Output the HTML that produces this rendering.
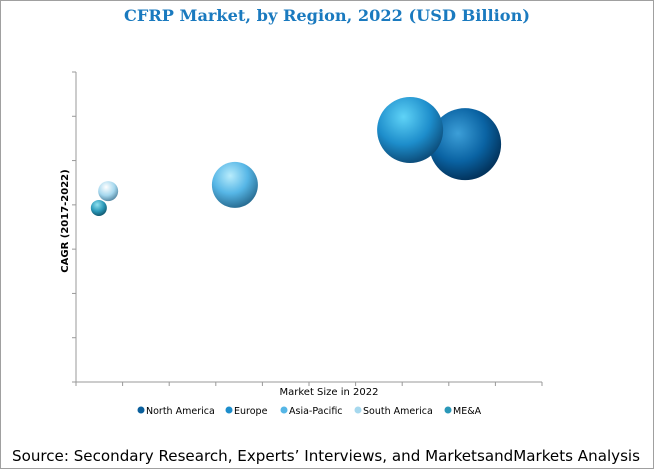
<!DOCTYPE html>
<html><head><meta charset="utf-8"><style>
body{margin:0;width:654px;height:469px;background:#fff;overflow:hidden}
svg{display:block}
</style></head><body>
<svg width="654" height="469" font-family="'DejaVu Sans','Liberation Sans',sans-serif">
<defs>
<radialGradient id="gNA" cx="0.4" cy="0.35" r="0.65"><stop offset="0" stop-color="#3d9fd8"/><stop offset="0.6" stop-color="#0a63a3"/><stop offset="1" stop-color="#03355f"/></radialGradient>
<radialGradient id="gEU" cx="0.4" cy="0.3" r="0.7"><stop offset="0" stop-color="#5fd3f7"/><stop offset="0.6" stop-color="#1d8dcb"/><stop offset="1" stop-color="#0d4f7d"/></radialGradient>
<radialGradient id="gAP" cx="0.4" cy="0.3" r="0.7"><stop offset="0" stop-color="#b8ecfc"/><stop offset="0.55" stop-color="#56b6e6"/><stop offset="1" stop-color="#2a6f95"/></radialGradient>
<radialGradient id="gSA" cx="0.4" cy="0.3" r="0.7"><stop offset="0" stop-color="#ffffff"/><stop offset="0.6" stop-color="#a6d8ee"/><stop offset="1" stop-color="#5a8da8"/></radialGradient>
<radialGradient id="gME" cx="0.4" cy="0.3" r="0.7"><stop offset="0" stop-color="#8fe1f0"/><stop offset="0.6" stop-color="#2a98b8"/><stop offset="1" stop-color="#125a72"/></radialGradient>
</defs>
<rect x="0.5" y="0.5" width="653" height="468" fill="#fff" stroke="#a0a0a0"/>
<text x="124" y="21" textLength="406" lengthAdjust="spacingAndGlyphs" font-family="'DejaVu Serif','Liberation Serif',serif" font-weight="bold" font-size="15.5" fill="#1a7abf">CFRP Market, by Region, 2022 (USD Billion)</text>
<g id="axes"></g>
<g id="bubbles"></g>
<text x="329" y="395" text-anchor="middle" font-size="10" fill="#000">Market Size in 2022</text>
<text transform="translate(68,221) rotate(-90)" text-anchor="middle" font-size="10" font-weight="bold" fill="#000">CAGR (2017-2022)</text>
<g id="legend"></g>
<text x="12" y="461" textLength="628" lengthAdjust="spacingAndGlyphs" font-size="15" fill="#000">Source: Secondary Research, Experts’ Interviews, and MarketsandMarkets Analysis</text>
</svg>
<script>
const regions=["North America","Europe","Asia-Pacific","South America","ME&A"];
const marketSize=[8.35,7.17,3.41,0.69,0.49];
const cagr=[5.37,5.69,4.45,4.31,3.93];
const bubbleSize=[36,33,23,10,8];
const grads=["gNA","gEU","gAP","gSA","gME"];
const legendColors=["#0a5f9c","#1d8dcb","#56b6e6","#a6d8ee","#2a98b8"];
const X0=76,X1=542,Y0=382,Y1=72,XMAX=10,YMAX=7;
const xs=v=>X0+v/XMAX*(X1-X0), ys=v=>Y0-v/YMAX*(Y0-Y1);
const NS="http://www.w3.org/2000/svg";
const mk=(t,a)=>{const e=document.createElementNS(NS,t);for(const k in a)e.setAttribute(k,a[k]);return e;};
const ax=document.getElementById('axes');
let l=mk('line',{x1:X0,y1:Y1,x2:X0,y2:Y0,stroke:'#999','stroke-width':1});


ax.appendChild(l);
l=mk('line',{x1:X0,y1:Y0,x2:X1,y2:Y0,stroke:'#999','stroke-width':1});


ax.appendChild(l);
for(let i=0;i<=XMAX;i++){const t=mk('line',{x1:xs(i),y1:Y0,x2:xs(i),y2:Y0+4,stroke:'#999'});


ax.appendChild(t);}
for(let i=0;i<=YMAX;i++){const t=mk('line',{x1:X0-4,y1:ys(i),x2:X0,y2:ys(i),stroke:'#999'});


ax.appendChild(t);}
const bg=document.getElementById('bubbles');
const order=[4,3,2,0,1];
order.forEach(i=>{const c=mk('circle',{cx:xs(marketSize[i]),cy:ys(cagr[i]),r:bubbleSize[i],fill:'url(#'+grads[i]+')'});


bg.appendChild(c);});
const lg=document.getElementById('legend');
const lx=[141,229,284,358,448];
regions.forEach((r,i)=>{const g=mk('g',{});


g.appendChild(mk('circle',{cx:lx[i],cy:410,r:3.5,fill:legendColors[i]}));
const t=mk('text',{x:lx[i]+5,y:414,'font-size':9.5,fill:'#000'});t.textContent=r;g.appendChild(t);lg.appendChild(g);});
</script>
</body></html>
